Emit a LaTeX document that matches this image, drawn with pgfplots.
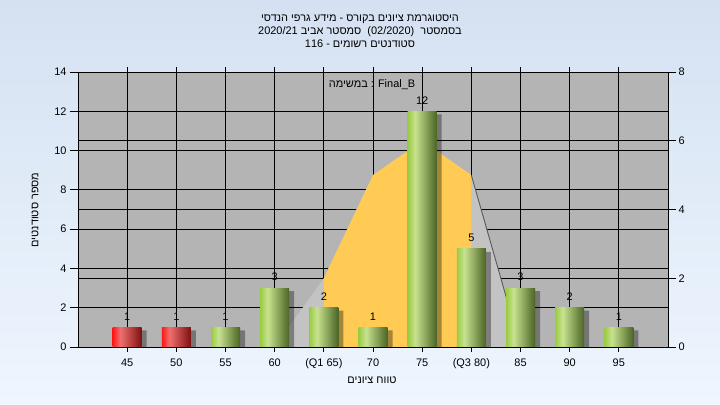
\documentclass[border=0pt]{standalone}
\usepackage{fontspec}
\setmainfont{Liberation Sans}
\newfontfamily\heb[Script=Hebrew]{Liberation Sans}
\TeXXeTstate=1
\usepackage{pgfplots}
\pgfplotsset{compat=1.18}
\definecolor{plotbg}{HTML}{B4B4B4}
\definecolor{lightarea}{HTML}{C3C3C3}
\definecolor{orangearea}{HTML}{FFCB55}
\definecolor{bgtop}{HTML}{D5E1F2}
\definecolor{bgbot}{HTML}{EEF6FE}
\definecolor{gL}{HTML}{9ACB42}
\definecolor{gM}{HTML}{C8E290}
\definecolor{gR}{HTML}{4A6424}
\definecolor{rL}{HTML}{FF1818}
\definecolor{rM}{HTML}{F07070}
\definecolor{rR}{HTML}{7E1010}
\pgfdeclarehorizontalshading{gbar}{100bp}{color(0bp)=(gL); color(25bp)=(gL); color(38bp)=(gM); color(75bp)=(gR); color(100bp)=(gR)}
\pgfdeclarehorizontalshading{rbar}{100bp}{color(0bp)=(rL); color(25bp)=(rL); color(38bp)=(rM); color(75bp)=(rR); color(100bp)=(rR)}
\newcommand{\fs}{\fontsize{11}{13}\selectfont}
\newcommand{\gbar}[2]{\addplot[ybar, bar width=29bp, bar shift=0bp, draw=none, shade, shading=gbar, shading angle=0] coordinates {(#1,#2)};}
\newcommand{\rbar}[2]{\addplot[ybar, bar width=29bp, bar shift=0bp, draw=none, shade, shading=rbar, shading angle=0] coordinates {(#1,#2)};}
\begin{document}
\begin{tikzpicture}
\useasboundingbox (0bp,0bp) rectangle (720bp,405bp);
\shade[top color=bgtop, bottom color=bgbot] (0bp,0bp) rectangle (720bp,405bp);
% right axis: background, grids, area
\begin{axis}[
  at={(78bp,58bp)}, anchor=south west, scale only axis,
  width=590bp, height=275bp,
  xmin=-1, xmax=11, ymin=0, ymax=8,
  axis background/.style={fill=plotbg},
  axis line style={draw=none},
  xtick=\empty,
  extra x ticks={0,1,2,3,4,5,6,7,8,9,10},
  extra x tick labels={},
  extra x tick style={grid=major, major tick length=5bp},
  ytick pos=right, yticklabel pos=right,
  ytick={0,2,4,6,8},
  extra y ticks={1.142857,2.285714,3.428571,4.571429,5.714286,6.857143},
  extra y tick labels={},
  extra y tick style={grid=major, major tick length=0pt},
  ymajorgrids,
  major grid style={black, line width=0.8bp},
  tick align=outside, major tick length=8bp,
  tick style={black, line width=0.8bp},
  /pgf/number format/assume math mode=true,
  yticklabel style={font=\fs, xshift=-1bp},
]
\addplot[fill=lightarea, draw=none] coordinates {(3,0) (4,2) (5,5) (6,6) (7,5) (8,0)} \closedcycle;
\addplot[fill=orangearea, draw=none] coordinates {(4,2) (5,5) (6,6) (7,5)} \closedcycle;
\addplot[draw=black!65, line width=0.9bp] coordinates {(7,5) (8,0)};
\end{axis}
% left axis: bars
\begin{axis}[
  at={(78bp,58bp)}, anchor=south west, scale only axis,
  width=590bp, height=275bp,
  xmin=-1, xmax=11, ymin=0, ymax=14,
  axis line style={black, line width=0.8bp},
  xtick={0,...,10},
  xticklabels={45,50,55,60,(Q1 65),70,75,(Q3 80),85,90,95},
  ytick={0,2,...,14},
  xtick pos=left, ytick pos=left,
  tick align=outside, major tick length=8bp,
  x tick style={draw=none},
  tick style={black, line width=0.8bp},
  /pgf/number format/assume math mode=true,
  ticklabel style={font=\fs},
]
\addplot[ybar, bar width=29bp, bar shift=5bp, yshift=-3bp, fill=black, draw=none, opacity=0.35]
  coordinates {(0,1) (1,1) (2,1) (3,3) (4,2) (5,1) (6,12) (7,5) (8,3) (9,2) (10,1)};
\rbar{0}{1}
\rbar{1}{1}
\gbar{2}{1}
\gbar{3}{3}
\gbar{4}{2}
\gbar{5}{1}
\gbar{6}{12}
\gbar{7}{5}
\gbar{8}{3}
\gbar{9}{2}
\gbar{10}{1}
\addplot[draw=none, mark=none, nodes near coords,
  nodes near coords style={font=\fs, text=black, anchor=south, inner sep=1bp, yshift=6bp}]
  coordinates {(0,1) (1,1) (2,1) (3,3) (4,2) (5,1) (6,12) (7,5) (8,3) (9,2) (10,1)};
\end{axis}
% texts
\node[align=center, font=\heb\fs] at (360bp,374bp)
  {\beginR היסטוגרמת ציונים בקורס - מידע גרפי הנדסי\endR\\
   \beginR בסמסטר\ \ \beginL(02/2020)\endL\ \ סמסטר אביב \beginL2020/21\endL\endR\\
   \beginR סטודנטים רשומים - \beginL116\endL\endR};
\node[font=\fs] at (372bp,320bp) {{\heb\beginR במשימה\endR} : Final\_B};
\node[font=\heb\fs, rotate=90] at (35bp,195bp) {\beginR מספר סטודנטים\endR};
\node[font=\heb\fs] at (372bp,25bp) {\beginR טווח ציונים\endR};
\end{tikzpicture}
\end{document}
